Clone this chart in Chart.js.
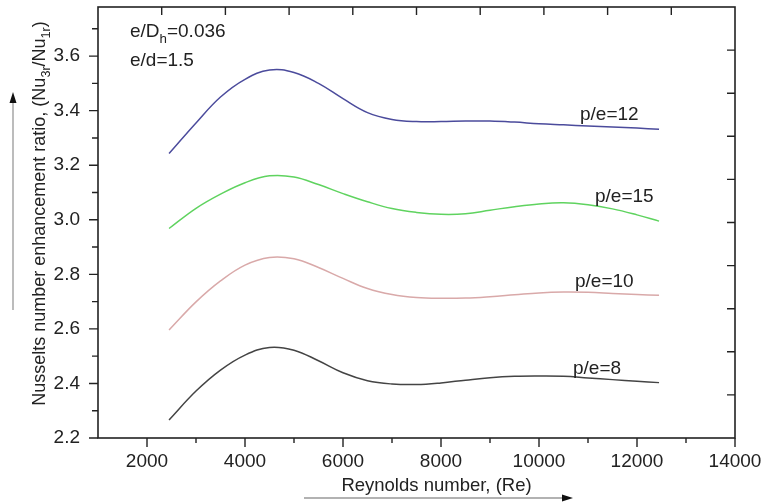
<!DOCTYPE html>
<html><head><meta charset="utf-8">
<script src="https://cdn.jsdelivr.net/npm/chart.js@4.4.0/dist/chart.umd.min.js"></script>
<style>html,body{margin:0;padding:0;background:#fff}#wrap{width:762px;height:502px}</style>
</head><body><div id="wrap"><canvas id="c" width="762" height="502"></canvas></div>
<script>
// ---- data ----
const reynolds = [2450, 3000, 3500, 4000, 4500, 5000, 5500, 6000, 6500, 7000, 7500, 8000, 8500, 9000, 9500, 10000, 10500, 11000, 11500, 12000, 12450];
const pe12 = [3.243, 3.355, 3.45, 3.515, 3.549, 3.54, 3.50, 3.444, 3.393, 3.368, 3.36, 3.36, 3.362, 3.362, 3.358, 3.352, 3.348, 3.344, 3.34, 3.336, 3.332];
const pe15 = [2.968, 3.042, 3.094, 3.136, 3.161, 3.157, 3.129, 3.096, 3.066, 3.041, 3.027, 3.02, 3.022, 3.035, 3.048, 3.058, 3.062, 3.055, 3.04, 3.018, 2.995];
const pe10 = [2.596, 2.699, 2.776, 2.834, 2.862, 2.857, 2.825, 2.785, 2.748, 2.726, 2.715, 2.712, 2.713, 2.718, 2.725, 2.732, 2.735, 2.734, 2.73, 2.726, 2.723];
const pe8  = [2.266, 2.372, 2.449, 2.504, 2.532, 2.522, 2.483, 2.439, 2.41, 2.398, 2.396, 2.402, 2.412, 2.421, 2.426, 2.427, 2.426, 2.42, 2.414, 2.408, 2.403];
const seriesNames = ['p/e=12', 'p/e=15', 'p/e=10', 'p/e=8'];
const xTickLabels = [2000, 4000, 6000, 8000, 10000, 12000, 14000];
const yTickLabels = [2.2, 2.4, 2.6, 2.8, 3.0, 3.2, 3.4, 3.6];
const xRange = [1000, 14000];
const yRange = [2.2, 3.78];

// ---- styling / label anchors (data units) ----
const colors = ['#4b4b9c', '#5fd35f', '#d9a9a9', '#444444'];
const labelAnchors = [[10837, 3.367], [11143, 3.066], [10735, 2.754], [10694, 2.434]];
const FONT = "'Liberation Sans', Arial, sans-serif";

function toPts(vals) { return reynolds.map((r, i) => ({x: r, y: vals[i]})); }
const allSeries = [pe12, pe15, pe10, pe8];

function drawRich(ctx, parts, size, doDraw) {
  let x = 0;
  parts.forEach(p => {
    const fs = p.sub ? size * 0.7 : size;
    ctx.font = fs + 'px ' + FONT;
    const w = ctx.measureText(p.t).width;
    if (doDraw) ctx.fillText(p.t, x, p.sub ? size * 0.3 : 0);
    x += w;
  });
  return x;
}
function richText(ctx, parts, size, x, y, align) {
  const w = drawRich(ctx, parts, size, false);
  ctx.save();
  ctx.translate(align === 'center' ? x - w / 2 : x, y);
  ctx.textAlign = 'left';
  ctx.textBaseline = 'alphabetic';
  drawRich(ctx, parts, size, true);
  ctx.restore();
}

const decor = {
  id: 'decor',
  afterDraw(chart) {
    const ctx = chart.ctx, a = chart.chartArea;
    const xs = chart.scales.x, ys = chart.scales.y;
    ctx.save();
    ctx.strokeStyle = '#222';
    ctx.lineWidth = 1.6;
    ctx.strokeRect(a.left, a.top, a.right - a.left, a.bottom - a.top);
    ctx.lineWidth = 1.4;
    ctx.beginPath();
    for (let i = 0; i < xTickLabels.length; i++) {
      const px = xs.getPixelForValue(xTickLabels[i]);
      ctx.moveTo(px, a.bottom); ctx.lineTo(px, a.bottom + 9);
      if (i > 0) {
        const mx = xs.getPixelForValue((xTickLabels[i - 1] + xTickLabels[i]) / 2);
        ctx.moveTo(mx, a.bottom); ctx.lineTo(mx, a.bottom + 5);
      }
    }
    for (let i = 0; i < yTickLabels.length; i++) {
      const py = ys.getPixelForValue(yTickLabels[i]);
      ctx.moveTo(a.left, py); ctx.lineTo(a.left - 9, py);
      const nxt = yTickLabels[i] + 0.1;
      if (nxt < yRange[1]) {
        const my = ys.getPixelForValue(nxt);
        ctx.moveTo(a.left, my); ctx.lineTo(a.left - 6, my);
      }
    }
    for (let k = 1; k < 10; k++) {
      const px = a.left + (a.right - a.left) * k / 10;
      ctx.moveTo(px, a.top); ctx.lineTo(px, a.top + 8);
      const py = a.top + (a.bottom - a.top) * k / 10;
      ctx.moveTo(a.right, py); ctx.lineTo(a.right - 8, py);
    }
    ctx.stroke();

    ctx.fillStyle = '#222';
    ctx.font = '19px ' + FONT;
    ctx.textAlign = 'left';
    ctx.textBaseline = 'alphabetic';
    seriesNames.forEach((n, i) => {
      ctx.fillText(n, xs.getPixelForValue(labelAnchors[i][0]), ys.getPixelForValue(labelAnchors[i][1]));
    });
    richText(ctx, [{t: 'e/D'}, {t: 'h', sub: true}, {t: '=0.036'}], 19, a.left + 32, a.top + 30, 'left');
    richText(ctx, [{t: 'e/d=1.5'}], 19, a.left + 32, a.top + 59, 'left');

    richText(ctx, [{t: 'Reynolds number, (Re)'}], 18.5, (a.left + a.right) / 2 + 20, 491, 'center');
    ctx.save();
    ctx.translate(45, (a.top + a.bottom) / 2 - 9);
    ctx.rotate(-Math.PI / 2);
    richText(ctx, [{t: 'Nusselts number enhancement ratio, (Nu'}, {t: '3r', sub: true}, {t: '/Nu'}, {t: '1r', sub: true}, {t: ')'}], 18, 0, 0, 'center');
    ctx.restore();

    ctx.strokeStyle = '#999';
    ctx.lineWidth = 1.3;
    ctx.beginPath();
    ctx.moveTo(13, 310); ctx.lineTo(13, 100);
    ctx.moveTo(304, 498); ctx.lineTo(565, 498);
    ctx.stroke();
    ctx.fillStyle = '#111';
    ctx.beginPath();
    ctx.moveTo(13, 92); ctx.lineTo(9.5, 103); ctx.lineTo(16.5, 103); ctx.closePath();
    ctx.moveTo(573, 498); ctx.lineTo(562, 494.5); ctx.lineTo(562, 501.5); ctx.closePath();
    ctx.fill();
    ctx.restore();
  }
};

new Chart(document.getElementById('c'), {
  type: 'line',
  data: {
    datasets: allSeries.map((vals, i) => ({
      label: seriesNames[i],
      data: toPts(vals),
      borderColor: colors[i],
      borderWidth: 1.5,
      pointRadius: 0,
      fill: false,
      tension: 0.4
    }))
  },
  options: {
    responsive: false,
    animation: false,
    devicePixelRatio: 1,
    layout: {padding: {top: 7, right: 27, left: 0, bottom: 0}},
    plugins: {legend: {display: false}, tooltip: {enabled: false}},
    scales: {
      x: {
        type: 'linear', min: xRange[0], max: xRange[1],
        afterBuildTicks: s => { s.ticks = xTickLabels.map(v => ({value: v})); },
        afterFit: s => { s.height = 64; s.paddingLeft = 0; s.paddingRight = 0; },
        grid: {display: false, drawTicks: false, tickLength: 0},
        border: {display: false},
        ticks: {font: {family: FONT, size: 19}, color: '#222', padding: 12, maxRotation: 0, autoSkip: false, callback: v => String(v)}
      },
      y: {
        type: 'linear', min: yRange[0], max: yRange[1],
        afterBuildTicks: s => { s.ticks = yTickLabels.map(v => ({value: v})); },
        afterFit: s => { s.width = 98; s.paddingTop = 0; s.paddingBottom = 0; },
        grid: {display: false, drawTicks: false, tickLength: 0},
        border: {display: false},
        ticks: {font: {family: FONT, size: 19}, color: '#222', padding: 18, autoSkip: false, callback: v => Number(v).toFixed(1)}
      }
    }
  },
  plugins: [decor]
});
</script>
</body></html>
